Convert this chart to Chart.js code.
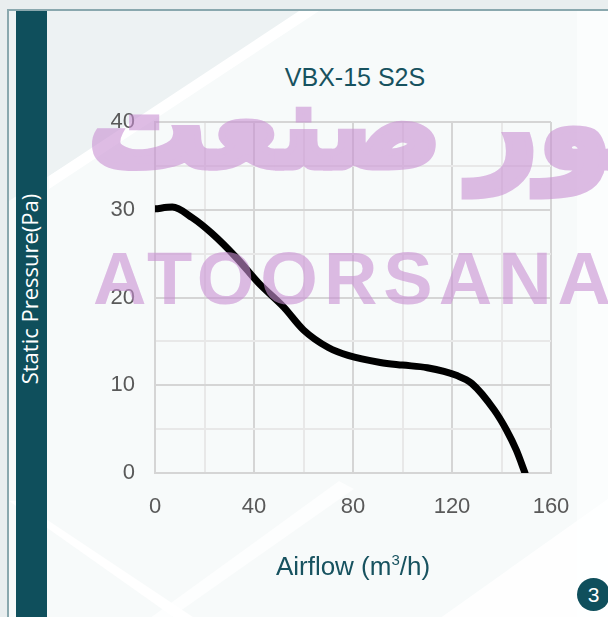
<!DOCTYPE html>
<html>
<head>
<meta charset="utf-8">
<script src="https://cdn.jsdelivr.net/npm/chart.js@4.4.1/dist/chart.umd.min.js"></script>
<style>
    html, body { margin: 0; padding: 0; }
    body { width: 608px; height: 617px; overflow: hidden; position: relative; background: #e9eeef; font-family: "Liberation Sans", Arial, sans-serif; }
    #frame { position: absolute; left: 7px; top: 9px; right: -2px; bottom: -2px; border-left: 2px solid #8aa8ae; border-top: 2px solid #8aa8ae; background: #f5f8f9; overflow: hidden; }
    #bg { position: absolute; left: 0; top: 0; }
    #band { position: absolute; left: 16px; top: 11px; width: 31px; height: 606px; background: #0f4f5c; }
    #bandText { position: absolute; left: 29px; top: 289px; transform: translate(-50%, -50%) rotate(-90deg); color: #fff; font-family: "Open Sans", sans-serif; font-size: 22px; white-space: nowrap; }
    #chartBox { position: absolute; left: 0; top: 0; width: 608px; height: 617px; }
    #title { position: absolute; left: 355px; top: 77px; transform: translate(-50%, -50%); color: #17525f; font-size: 25px; white-space: nowrap; }
    #xTitle { position: absolute; left: 353px; top: 566px; transform: translate(-50%, -50%); color: #17525f; font-size: 26px; white-space: nowrap; }
    #xTitle sup { font-size: 15px; }
    #badge { position: absolute; left: 577px; top: 578px; width: 33px; height: 33px; border-radius: 50%; background: #0f4f5c; color: #fff; font-size: 21px; line-height: 33px; text-align: center; }
    .wm { position: absolute; color: #c98fd3; opacity: 0.6; white-space: nowrap; pointer-events: none; }
    .fa { top: 57px; font-family: "DejaVu Sans", sans-serif; font-weight: bold; font-size: 118px; direction: rtl; -webkit-text-stroke: 7px #c98fd3; }
    #wmFa1 { left: 88px; }
    #wmFa2 { left: 470px; }
    #wmEn { left: 93px; top: 236px; font-family: "Liberation Sans", Arial, sans-serif; font-weight: bold; font-size: 74px; letter-spacing: 6px; }
</style>
</head>
<body>
<div id="frame">
    <svg id="bg" width="610" height="615">
        <polygon points="0,0 300,0 40,165 0,190" fill="#edf2f3"/>
        <polygon points="300,0 610,0 610,615 0,615 0,190 40,165" fill="#f7fafa"/>
        <polygon points="290,0 310,0 40,178 40,165" fill="#ffffff"/>
        <polygon points="568,0 610,0 610,615 568,615" fill="#ffffff" opacity="0.5"/>
        <polygon points="0,490 10,490 190,610 170,610" fill="#ffffff"/>
        <polygon points="420,615 610,480 610,615" fill="#ffffff" opacity="0.8"/>
        <polygon points="130,615 330,470 345,478 150,615" fill="#ffffff" opacity="0.7"/>
    </svg>
</div>
<div id="band"></div>
<div id="bandText">Static Pressure(Pa)</div>
<div id="title">VBX-15 S2S</div>
<div id="chartBox"><canvas id="fanChart" width="608" height="617"></canvas></div>
<div id="xTitle">Airflow (m<sup>3</sup>/h)</div>
<div id="badge">3</div>
<div class="wm fa" id="wmFa1">صنعت</div>
<div class="wm fa" id="wmFa2">آتور</div>
<div class="wm" id="wmEn">ATOORSANA</div>
<script>
// Fan curve
const airflow = [0, 7, 15, 23, 33, 42, 52, 60, 70, 78, 91, 100, 110, 122, 128, 137, 142, 146, 149.5];
const pressure = [30.1, 30.3, 29.1, 27.3, 24.5, 21.6, 18.9, 16.3, 14.3, 13.4, 12.6, 12.3, 12.0, 11.1, 10.2, 7.2, 4.9, 2.6, 0];

const xTicks = [0, 40, 80, 120, 160];
const yTicks = [0, 10, 20, 30, 40];

const tickFont = { family: "Liberation Sans", size: 22 };

function gridColor(ctx, labels) {
    return labels.includes(ctx.tick.value) ? "#d5d5d5" : "#e8e8e8";
}

const ctx = document.getElementById("fanChart").getContext("2d");
new Chart(ctx, {
    type: "line",
    data: {
        datasets: [{
            data: airflow.map((x, i) => ({ x: x, y: pressure[i] })),
            borderColor: "#000",
            borderWidth: 7,
            pointRadius: 0,
            tension: 0.4,
            cubicInterpolationMode: "monotone",
            borderCapStyle: "round",
            borderJoinStyle: "round"
        }]
    },
    options: {
        responsive: false,
        animation: false,
        layout: { padding: { left: 47, right: 57, top: 122, bottom: 0 } },
        plugins: { legend: { display: false }, tooltip: { enabled: false } },
        scales: {
            x: {
                type: "linear",
                min: 0,
                max: 160,
                afterFit: (scale) => { scale.height = 144; },
                grid: {
                    color: (c) => gridColor(c, xTicks),
                    lineWidth: 2,
                    drawTicks: false
                },
                border: { color: "#d5d5d5", width: 2 },
                ticks: {
                    stepSize: 20,
                    padding: 21,
                    color: "#595959",
                    font: tickFont,
                    callback: (v) => xTicks.includes(v) ? v : ""
                }
            },
            y: {
                min: 0,
                max: 40,
                afterFit: (scale) => { scale.width = 108; },
                grid: {
                    color: (c) => gridColor(c, yTicks),
                    lineWidth: 2,
                    drawTicks: false
                },
                border: { color: "#d5d5d5", width: 2 },
                ticks: {
                    stepSize: 5,
                    padding: 20,
                    color: "#595959",
                    font: tickFont,
                    callback: (v) => yTicks.includes(v) ? v : ""
                }
            }
        }
    }
});
</script>
</body>
</html>
